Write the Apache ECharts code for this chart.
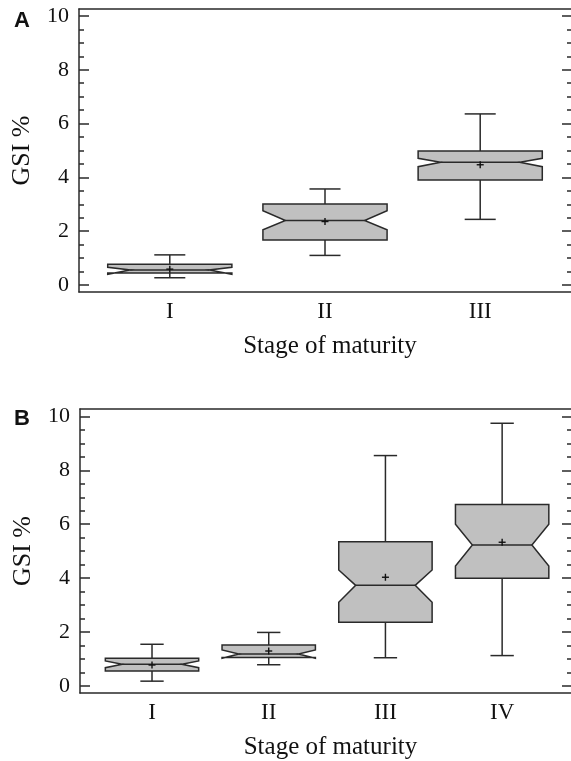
<!DOCTYPE html>
<html>
<head>
<meta charset="utf-8">
<script src="https://cdn.jsdelivr.net/npm/echarts@6/dist/echarts.min.js"></script>
<style>
  html, body { margin: 0; padding: 0; background: #fff; }
  #chart { width: 571px; height: 761px; }
</style>
</head>
<body>
<div id="chart"></div>
<script>
// panel A
const stagesA = ['I', 'II', 'III'];
const whiskerLowA = [0.27, 1.10, 2.44];
const q1A = [0.45, 1.67, 3.90];
const notchLowA = [0.40, 2.05, 4.40];
const medianA = [0.56, 2.40, 4.56];
const notchHighA = [0.66, 2.76, 4.71];
const q3A = [0.77, 3.01, 4.98];
const whiskerHighA = [1.12, 3.57, 6.36];
const meanA = [0.59, 2.36, 4.47];

// panel B
const stagesB = ['I', 'II', 'III', 'IV'];
const whiskerLowB = [0.17, 0.78, 1.04, 1.12];
const q1B = [0.55, 1.05, 2.36, 3.99];
const notchLowB = [0.67, 1.02, 3.10, 4.45];
const medianB = [0.80, 1.18, 3.73, 5.23];
const notchHighB = [0.92, 1.33, 4.30, 6.00];
const q3B = [1.02, 1.51, 5.35, 6.73];
const whiskerHighB = [1.54, 1.98, 8.55, 9.75];
const meanB = [0.77, 1.29, 4.03, 5.33];

// y ticks
const majorTicks = [0, 2, 4, 6, 8, 10];
const minorTicks = [0, 0.5, 1, 1.5, 2, 2.5, 3, 3.5, 4, 4.5, 5, 5.5, 6, 6.5, 7, 7.5, 8, 8.5, 9, 9.5, 10];

const lineColor = '#2a2a2a';
const textColor = '#111';
const serif = '"Liberation Serif", "DejaVu Serif", serif';

const buildData = (wl, q1, nl, md, nh, q3, wh, mn) =>
  wl.map((v, i) => [i + 1, wl[i], q1[i], nl[i], md[i], nh[i], q3[i], wh[i], mn[i]]);

const renderBox = (params, api) => {
  const x = api.value(0);
  const wl = api.value(1), q1 = api.value(2), nl = api.value(3), md = api.value(4);
  const nh = api.value(5), q3 = api.value(6), wh = api.value(7), mn = api.value(8);
  const hw = 0.4, cap = 0.1, d = 0.145;
  const p = (dx, y) => api.coord([x + dx, y]);
  const ln = (a, b) => ({
    type: 'line',
    shape: { x1: a[0], y1: a[1], x2: b[0], y2: b[1] },
    style: { stroke: lineColor, lineWidth: 1.5 },
  });
  const c = p(0, mn);
  return {
    type: 'group',
    children: [
      ln(p(0, q3), p(0, wh)),
      ln(p(-cap, wh), p(cap, wh)),
      ln(p(0, q1), p(0, wl)),
      ln(p(-cap, wl), p(cap, wl)),
      {
        type: 'polygon',
        shape: {
          points: [
            p(-hw, q3), p(hw, q3), p(hw, nh), p(hw - d, md), p(hw, nl), p(hw, q1),
            p(-hw, q1), p(-hw, nl), p(-hw + d, md), p(-hw, nh),
          ],
        },
        style: { fill: '#c0c0c0', stroke: lineColor, lineWidth: 1.5 },
      },
      ln(p(-hw + d, md), p(hw - d, md)),
      {
        type: 'line',
        shape: { x1: c[0] - 3.5, y1: c[1], x2: c[0] + 3.5, y2: c[1] },
        style: { stroke: '#111', lineWidth: 1.4 },
      },
      {
        type: 'line',
        shape: { x1: c[0], y1: c[1] - 3.5, x2: c[0], y2: c[1] + 3.5 },
        style: { stroke: '#111', lineWidth: 1.4 },
      },
    ],
  };
};

const yAxesFor = (g, min, max) => [
  {
    gridIndex: g, type: 'value', min, max, position: 'left',
    name: 'GSI %', nameLocation: 'middle', nameGap: 44,
    nameTextStyle: { fontFamily: serif, fontSize: 26, color: textColor },
    axisLine: { show: true, onZero: false, lineStyle: { color: lineColor, width: 1.5 } },
    axisTick: { show: true, inside: true, length: 10, customValues: majorTicks, lineStyle: { color: lineColor, width: 1.5 } },
    axisLabel: { customValues: majorTicks, margin: 10, fontFamily: serif, fontSize: 22, color: textColor },
    splitLine: { show: false },
  },
  {
    gridIndex: g, type: 'value', min, max, position: 'left',
    axisLine: { show: false, onZero: false },
    axisTick: { show: true, inside: true, length: 5, customValues: minorTicks, lineStyle: { color: lineColor, width: 1.5 } },
    axisLabel: { show: false },
    splitLine: { show: false },
  },
  {
    gridIndex: g, type: 'value', min, max, position: 'right',
    axisLine: { show: false, onZero: false },
    axisTick: { show: true, inside: true, length: 9, customValues: majorTicks, lineStyle: { color: lineColor, width: 1.5 } },
    axisLabel: { show: false },
    splitLine: { show: false },
  },
  {
    gridIndex: g, type: 'value', min, max, position: 'right',
    axisLine: { show: false, onZero: false },
    axisTick: { show: true, inside: true, length: 4, customValues: minorTicks, lineStyle: { color: lineColor, width: 1.5 } },
    axisLabel: { show: false },
    splitLine: { show: false },
  },
];

const xAxesFor = (g, min, max, cats) => [
  {
    gridIndex: g, type: 'value', min, max, position: 'bottom',
    name: 'Stage of maturity', nameLocation: 'middle', nameGap: 42,
    nameTextStyle: { fontFamily: serif, fontSize: 25, color: textColor, padding: [0, 0, 0, 10] },
    axisLine: { show: true, onZero: false, lineStyle: { color: lineColor, width: 1.5 } },
    axisTick: { show: false },
    axisLabel: {
      customValues: cats.map((c, i) => i + 1),
      formatter: (v) => cats[Math.round(v) - 1],
      margin: 8, fontFamily: serif, fontSize: 23, color: textColor,
    },
    splitLine: { show: false },
  },
  {
    gridIndex: g, type: 'value', min, max, position: 'top',
    axisLine: { show: true, onZero: false, lineStyle: { color: lineColor, width: 1.5 } },
    axisTick: { show: false },
    axisLabel: { show: false },
    splitLine: { show: false },
  },
];

const chart = echarts.init(document.getElementById('chart'));

const option = {
  animation: false,
  backgroundColor: '#fff',
  grid: [
    { left: 79, top: 9, width: 492, height: 283 },
    { left: 80, top: 409, width: 491, height: 284 },
  ],
  xAxis: [
    ...xAxesFor(0, 0.415, 3.585, stagesA),
    ...xAxesFor(1, 0.383, 4.59, stagesB),
  ],
  yAxis: [
    ...yAxesFor(0, -0.26, 10.26),
    ...yAxesFor(1, -0.27, 10.28),
  ],
  graphic: [
    { type: 'text', left: 14, top: 10, style: { text: 'A', font: 'bold 22px "Liberation Sans", Arial, sans-serif', fill: '#111' } },
    { type: 'text', left: 14, top: 408, style: { text: 'B', font: 'bold 22px "Liberation Sans", Arial, sans-serif', fill: '#111' } },
  ],
  series: [
    {
      type: 'custom',
      xAxisIndex: 0,
      yAxisIndex: 0,
      renderItem: renderBox,
      encode: { x: 0, y: [1, 2, 3, 4, 5, 6, 7] },
      data: buildData(whiskerLowA, q1A, notchLowA, medianA, notchHighA, q3A, whiskerHighA, meanA),
      clip: false,
    },
    {
      type: 'custom',
      xAxisIndex: 2,
      yAxisIndex: 4,
      renderItem: renderBox,
      encode: { x: 0, y: [1, 2, 3, 4, 5, 6, 7] },
      data: buildData(whiskerLowB, q1B, notchLowB, medianB, notchHighB, q3B, whiskerHighB, meanB),
      clip: false,
    },
  ],
};

chart.setOption(option);
</script>
</body>
</html>
